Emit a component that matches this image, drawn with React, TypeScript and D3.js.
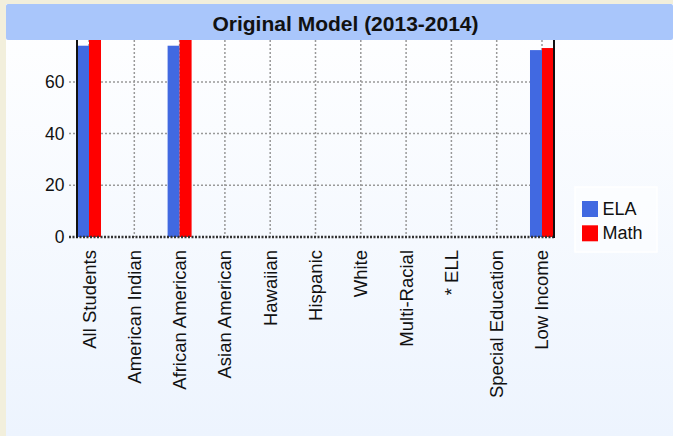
import React from "react";
import * as d3 from "d3";

const title = "Original Model (2013-2014)";
const categories = [
  "All Students",
  "American Indian",
  "African American",
  "Asian American",
  "Hawaiian",
  "Hispanic",
  "White",
  "Multi-Racial",
  "* ELL",
  "Special Education",
  "Low Income",
];
const elaValues = [74, 0, 74, 0, 0, 0, 0, 0, 0, 0, 72.3];
const mathValues = [78, 0, 78, 0, 0, 0, 0, 0, 0, 0, 73.1];
const yTicks = [0, 20, 40, 60];
const seriesNames = ["ELA", "Math"];
const seriesColors = ["#4169e1", "#ff0000"];

const W = 673;
const H = 436;
const FONT = "Liberation Sans, Arial, Helvetica, sans-serif";

export default function App() {
  const left = 77;
  const right = 554;
  const plotTop = 40;
  const bottom = 237;
  const x = d3.scaleLinear().domain([-0.265, categories.length - 1 + 0.265]).range([left, right]);
  const y = d3.scaleLinear().domain([0, 80]).range([bottom, 30.2]);
  const barW = 12;
  const series = [elaValues, mathValues];

  return (
    <svg width={W} height={H} style={{ position: "absolute", left: 0, top: 0 }} fontFamily={FONT}>
      <defs>
        <linearGradient id="bg" x1="0" y1="0" x2="0" y2="1">
          <stop offset="0" stopColor="#ffffff" />
          <stop offset="1" stopColor="#edf4fe" />
        </linearGradient>
        <clipPath id="plotClip">
          <rect x={left} y={plotTop} width={right - left} height={bottom - plotTop + 2} />
        </clipPath>
      </defs>
      <rect x={0} y={0} width={W} height={H} fill="#f2efdc" />
      <rect x={6} y={4} width={W - 6} height={H - 4} fill="url(#bg)" />

      {/* horizontal grid */}
      {yTicks.filter((t) => t !== 0).map((t) => (
        <line key={"h" + t} x1={69} x2={right} y1={y(t)} y2={y(t)} stroke="#999" strokeWidth={1.5} strokeDasharray="2,2" />
      ))}
      {/* vertical grid */}
      {categories.map((c, i) => (
        <line key={"v" + i} x1={x(i)} x2={x(i)} y1={plotTop} y2={bottom} stroke="#999" strokeWidth={1.5} strokeDasharray="2,2" />
      ))}

      {/* bars */}
      <g clipPath="url(#plotClip)">
        {series.map((vals, s) =>
          vals.map((v, i) =>
            v > 0 ? (
              <rect
                key={s + "-" + i}
                x={x(i) - barW + s * barW}
                y={y(v)}
                width={barW}
                height={bottom - y(v)}
                fill={seriesColors[s]}
              />
            ) : null
          )
        )}
      </g>

      {/* zero line */}
      <line x1={69} x2={right} y1={bottom} y2={bottom} stroke="#333" strokeWidth={2.5} strokeDasharray="2,1.5" />
      {/* axes */}
      <line x1={left} x2={left} y1={plotTop} y2={bottom + 1} stroke="#111" strokeWidth={2} />
      <line x1={right} x2={right} y1={plotTop} y2={bottom + 1} stroke="#111" strokeWidth={2} />

      {/* y tick labels */}
      {yTicks.map((t) => (
        <text key={"yt" + t} x={64.5} y={y(t)} textAnchor="end" dominantBaseline="central" fontSize={17.5} fill="#111">
          {t}
        </text>
      ))}

      {/* x labels */}
      {categories.map((c, i) => (
        <text
          key={"xl" + i}
          transform={`translate(${x(i) + 6.5},250) rotate(-90)`}
          textAnchor="end"
          fontSize={18.5}
          fill="#111"
        >
          {c}
        </text>
      ))}

      {/* title bar */}
      <rect x={6} y={4} width={W - 6} height={36} rx={2} fill="#a9c6fb" />
      <text x={345.5} y={31} textAnchor="middle" fontSize={21} fontWeight="bold" fill="#111">
        {title}
      </text>

      {/* legend */}
      <rect x={575} y={187} width={82} height={65} fill="#ffffff" fillOpacity={0.5} stroke="#ffffff" strokeWidth={1.5} />
      {seriesNames.map((n, i) => (
        <g key={"lg" + i}>
          <rect x={582} y={201 + i * 24.3} width={16} height={16} fill={seriesColors[i]} />
          <text x={602.5} y={209 + i * 24.3} dominantBaseline="central" fontSize={18} fill="#111">
            {n}
          </text>
        </g>
      ))}
    </svg>
  );
}
